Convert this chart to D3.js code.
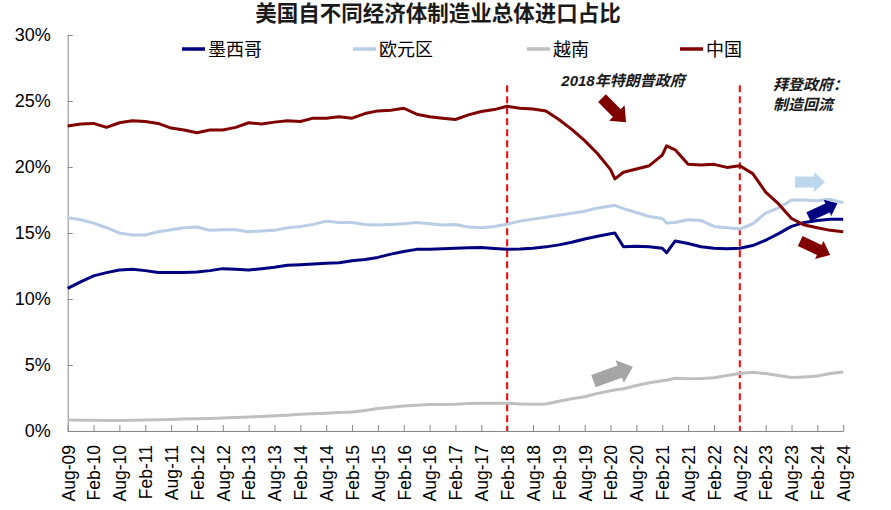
<!DOCTYPE html>
<html>
<head>
<meta charset="utf-8">
<script src="https://cdn.jsdelivr.net/npm/d3@7"></script>
<style>
body { margin: 0; background: #fff; }
svg { display: block; font-family: "Liberation Sans", Arial, "Noto Sans CJK SC", sans-serif; }
</style>
</head>
<body>
<script>
var sampleMonths = ["2009-08", "2009-11", "2010-02", "2010-05", "2010-08", "2010-11", "2011-02", "2011-05",
    "2011-08", "2011-11", "2012-02", "2012-05", "2012-08", "2012-11", "2013-02", "2013-05", "2013-08",
    "2013-11", "2014-02", "2014-05", "2014-08", "2014-11", "2015-02", "2015-05", "2015-08", "2015-11",
    "2016-02", "2016-05", "2016-08", "2016-11", "2017-02", "2017-05", "2017-08", "2017-11", "2018-02",
    "2018-05", "2018-08", "2018-11", "2019-02", "2019-05", "2019-08", "2019-11", "2020-02", "2020-03",
    "2020-05", "2020-08", "2020-11", "2021-02", "2021-03", "2021-05", "2021-08", "2021-11", "2022-02",
    "2022-05", "2022-08", "2022-11", "2023-02", "2023-05", "2023-08", "2023-11", "2024-02", "2024-05", "2024-08"];

var mexico = [10.8, 11.3, 11.75, 12.0, 12.2, 12.25, 12.15, 12.0, 12.0, 12.0, 12.05, 12.15, 12.3, 12.25, 12.2,
    12.3, 12.4, 12.55, 12.6, 12.65, 12.7, 12.75, 12.9, 13.0, 13.15, 13.4, 13.6, 13.76, 13.76, 13.8, 13.84,
    13.88, 13.9, 13.82, 13.76, 13.78, 13.85, 13.95, 14.1, 14.3, 14.55, 14.75, 14.95, 15.0, 13.96, 14.0, 13.95,
    13.85, 13.5, 14.4, 14.2, 13.96, 13.85, 13.8, 13.84, 14.05, 14.45, 14.95, 15.5, 15.8, 15.95, 16.04, 16.04];

var euroArea = [16.15, 16.0, 15.75, 15.4, 15.0, 14.85, 14.85, 15.1, 15.25, 15.4, 15.45, 15.2, 15.25, 15.25, 15.1,
    15.15, 15.2, 15.4, 15.5, 15.65, 15.9, 15.8, 15.8, 15.65, 15.6, 15.65, 15.7, 15.8, 15.7, 15.6, 15.65,
    15.45, 15.4, 15.5, 15.66, 15.9, 16.05, 16.2, 16.35, 16.5, 16.65, 16.9, 17.05, 17.1, 16.85, 16.55, 16.25,
    16.1, 15.75, 15.8, 16.0, 15.95, 15.5, 15.4, 15.3, 15.7, 16.5, 16.9, 17.5, 17.5, 17.45, 17.55, 17.3];

var vietnam = [0.83, 0.82, 0.81, 0.8, 0.8, 0.82, 0.84, 0.86, 0.88, 0.9, 0.92, 0.95, 0.98, 1.02, 1.06,
    1.1, 1.15, 1.2, 1.26, 1.3, 1.35, 1.4, 1.44, 1.55, 1.7, 1.8, 1.9, 1.95, 2.0, 2.0, 2.02,
    2.08, 2.1, 2.1, 2.1, 2.05, 2.02, 2.05, 2.25, 2.45, 2.6, 2.85, 3.05, 3.1, 3.2, 3.45, 3.65,
    3.8, 3.85, 4.0, 3.95, 3.98, 4.04, 4.2, 4.35, 4.45, 4.35, 4.2, 4.05, 4.1, 4.17, 4.35, 4.47];

var china = [23.1, 23.25, 23.3, 23.0, 23.35, 23.5, 23.45, 23.3, 22.95, 22.8, 22.6, 22.8, 22.8, 23.0, 23.35,
    23.25, 23.4, 23.5, 23.45, 23.7, 23.7, 23.8, 23.7, 24.05, 24.25, 24.3, 24.45, 24.0, 23.8, 23.7, 23.6,
    23.95, 24.2, 24.35, 24.6, 24.45, 24.4, 24.25, 23.6, 22.85, 22.0, 21.0, 19.8, 19.1, 19.6, 19.85, 20.1,
    20.9, 21.6, 21.3, 20.2, 20.15, 20.2, 19.97, 20.1, 19.5, 18.1, 17.2, 16.1, 15.6, 15.4, 15.2, 15.1];

var seriesNames = ["墨西哥", "欧元区", "越南", "中国"];
var seriesColors = ["#000080", "#b9cde5", "#bfbfbf", "#800000"];

var xTickLabels = ["Aug-09", "Feb-10", "Aug-10", "Feb-11", "Aug-11", "Feb-12", "Aug-12", "Feb-13", "Aug-13",
    "Feb-14", "Aug-14", "Feb-15", "Aug-15", "Feb-16", "Aug-16", "Feb-17", "Aug-17", "Feb-18", "Aug-18",
    "Feb-19", "Aug-19", "Feb-20", "Aug-20", "Feb-21", "Aug-21", "Feb-22", "Aug-22", "Feb-23", "Aug-23",
    "Feb-24", "Aug-24"];
var yTicks = [0, 5, 10, 15, 20, 25, 30];

var eventMonths = ["2018-02", "2022-08"];

var width = 891, height = 510;
var margin = { top: 35, right: 47.8, bottom: 79, left: 67.7 };

// months counted from Aug-09, like the category axis of the original
function monthIndex(s) {
    var p = s.split("-");
    return (+p[0] - 2009) * 12 + (+p[1] - 8);
}

var svg = d3.select("body").append("svg").attr("width", width).attr("height", height);

var x = d3.scaleLinear().domain([0, 180]).range([margin.left, width - margin.right]);
var y = d3.scaleLinear().domain([0, 30]).range([height - margin.bottom, margin.top]);

svg.append("text")
    .attr("x", 438).attr("y", 21)
    .attr("text-anchor", "middle")
    .attr("font-size", 21.5).attr("font-weight", "bold").attr("fill", "#1a1a1a")
    .text("美国自不同经济体制造业总体进口占比");

var yAxis = svg.append("g")
    .attr("transform", "translate(" + margin.left + ",0)")
    .call(d3.axisLeft(y).tickValues(yTicks).tickSizeInner(-5).tickSizeOuter(0).tickPadding(17)
        .tickFormat(function (d) { return d + "%"; }));
yAxis.selectAll("text").attr("font-size", 18).attr("fill", "#000").attr("font-family", null);
yAxis.selectAll("line, path").attr("stroke", "#888");

var xAxis = svg.append("g")
    .attr("transform", "translate(0," + y(0) + ")")
    .call(d3.axisBottom(x).tickValues(d3.range(0, 181, 6)).tickSizeInner(-6).tickSizeOuter(0)
        .tickFormat(function (d, i) { return xTickLabels[i]; }));
xAxis.selectAll("line, path").attr("stroke", "#888");
xAxis.selectAll("text")
    .attr("font-size", 17.5).attr("fill", "#000").attr("font-family", null)
    .attr("text-anchor", "end")
    .attr("transform", "rotate(-90)")
    .attr("x", -14).attr("y", 0).attr("dy", "0.36em");

svg.selectAll(".event")
    .data(eventMonths)
    .enter().append("line")
    .attr("class", "event")
    .attr("x1", function (d) { return x(monthIndex(d)); })
    .attr("x2", function (d) { return x(monthIndex(d)); })
    .attr("y1", y(26.2)).attr("y2", y(0))
    .attr("stroke", "#ff0000").attr("stroke-width", 2).attr("stroke-dasharray", "7,4");

var allSeries = [mexico, euroArea, vietnam, china].map(function (vals, i) {
    return {
        name: seriesNames[i],
        color: seriesColors[i],
        points: vals.map(function (v, j) { return { m: monthIndex(sampleMonths[j]), v: v }; })
    };
});

var line = d3.line()
    .x(function (d) { return x(d.m); })
    .y(function (d) { return y(d.v); });

svg.selectAll(".series")
    .data(allSeries)
    .enter().append("path")
    .attr("class", "series")
    .attr("fill", "none")
    .attr("stroke", function (d) { return d.color; })
    .attr("stroke-width", 3)
    .attr("stroke-linejoin", "round")
    .attr("d", function (d) { return line(d.points); });

var legendX = [182, 353, 527, 680];
var legend = svg.selectAll(".legend")
    .data(allSeries)
    .enter().append("g")
    .attr("class", "legend")
    .attr("transform", function (d, i) { return "translate(" + legendX[i] + ",49)"; });
legend.append("line")
    .attr("x1", 0).attr("x2", 23)
    .attr("stroke", function (d) { return d.color; })
    .attr("stroke-width", 3.5);
legend.append("text")
    .attr("x", 26).attr("y", 6.5)
    .attr("font-size", 18).attr("fill", "#000")
    .text(function (d) { return d.name; });

svg.append("text")
    .attr("x", x(128.9)).attr("y", y(26.15))
    .attr("text-anchor", "middle")
    .attr("font-size", 15).attr("font-weight", "bold").attr("font-style", "italic").attr("fill", "#1a1a1a")
    .text("2018年特朗普政府");

var biden = svg.append("text")
    .attr("font-size", 15).attr("font-weight", "bold").attr("font-style", "italic").attr("fill", "#1a1a1a");
biden.append("tspan").attr("x", x(163.7)).attr("y", y(25.8)).text("拜登政府：");
biden.append("tspan").attr("x", x(163.7)).attr("y", y(24.3)).text("制造回流");

// block arrows: centre (month, value), angle, length, shaft, head width, head length
var arrows = [
    { m: 126.8, v: 24.3, angle: 45, len: 34, shaft: 11, head: 22, headLen: 13, color: "#800000" },
    { m: 172.3, v: 18.86, angle: 0, len: 30, shaft: 11, head: 20, headLen: 11, color: "#bdd7ee" },
    { m: 175.3, v: 16.74, angle: -25, len: 32, shaft: 10, head: 18, headLen: 11, color: "#000080" },
    { m: 173.5, v: 13.86, angle: 25, len: 33, shaft: 11, head: 20, headLen: 12, color: "#800000" },
    { m: 126.6, v: 4.32, angle: -20, len: 42, shaft: 13, head: 24, headLen: 14, color: "#a5a5a5" }
];

function arrowPath(a) {
    var h = a.len / 2, s = a.shaft / 2, H = a.head / 2, b = h - a.headLen;
    return "M" + (-h) + "," + (-s) + "L" + b + "," + (-s) + "L" + b + "," + (-H) + "L" + h + ",0L" +
        b + "," + H + "L" + b + "," + s + "L" + (-h) + "," + s + "Z";
}

svg.selectAll(".arrow")
    .data(arrows)
    .enter().append("path")
    .attr("class", "arrow")
    .attr("transform", function (d) { return "translate(" + x(d.m) + "," + y(d.v) + ") rotate(" + d.angle + ")"; })
    .attr("d", arrowPath)
    .attr("fill", function (d) { return d.color; });
</script>
</body>
</html>
